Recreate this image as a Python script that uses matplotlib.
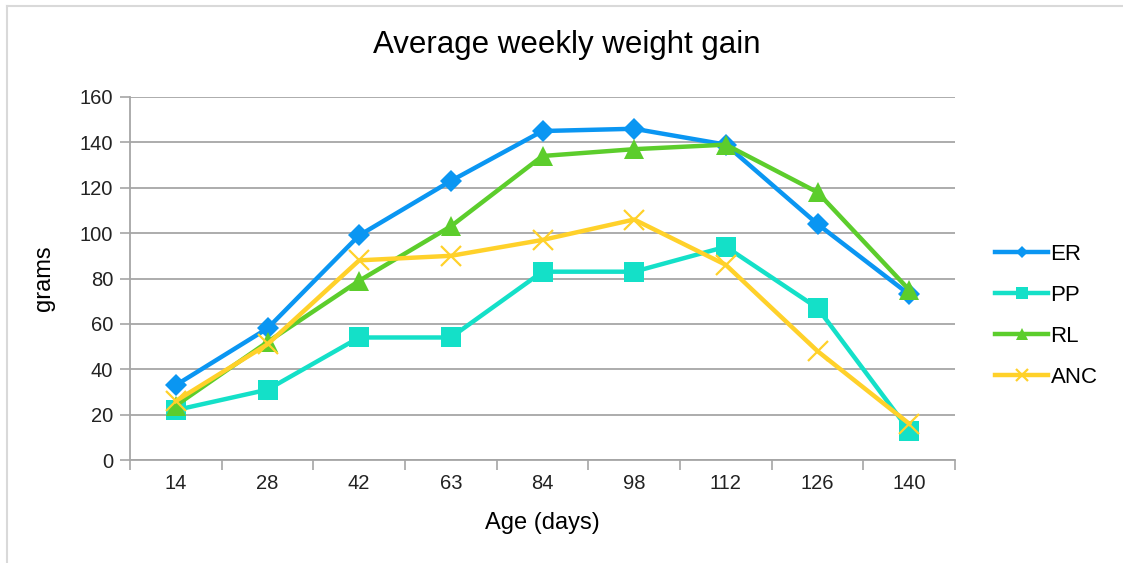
import matplotlib
matplotlib.use("Agg")
import matplotlib.pyplot as plt
import numpy as np
from matplotlib.lines import Line2D

categories = ["14", "28", "42", "63", "84", "98", "112", "126", "140"]
er = [33, 58, 99, 123, 145, 146, 139, 104, 73]
pp = [22, 31, 54, 54, 83, 83, 94, 67, 13]
rl = [24, 52, 79, 103, 134, 137, 139, 118, 75]
anc = [26, 51, 88, 90, 97, 106, 86, 48, 16]
series_names = ["ER", "PP", "RL", "ANC"]
y_ticks = [0, 20, 40, 60, 80, 100, 120, 140, 160]

plt.rcParams['font.family'] = ['Liberation Sans', 'DejaVu Sans']

fig = plt.figure(figsize=(11.23, 5.63), dpi=100)
ax = fig.add_axes([130/1123, 1 - 460/563, (955-130)/1123, (460-97)/563])

x = np.arange(len(categories))
grid_c = '#A6A6A6'
styles = [
    dict(color='#0A96F2', marker='D', markersize=11, markeredgewidth=0),
    dict(color='#14E0C8', marker='s', markersize=15, markeredgewidth=0),
    dict(color='#5CCD2C', marker='^', markersize=15, markeredgewidth=0),
    dict(color='#FFD12A', marker='x', markersize=15, markeredgewidth=1.6),
]
handles = []
for vals, name, st in zip([er, pp, rl, anc], series_names, styles):
    ax.plot(x, vals, lw=3.2, label=name, zorder=3, **st)
    h = Line2D([], [], color=st['color'], lw=3.2, marker=st['marker'],
               markersize=st['markersize'] * 0.6, markeredgewidth=st['markeredgewidth'])
    handles.append(h)

ax.set_xlim(-0.5, len(categories) - 0.5)
ax.set_ylim(0, 160)
ax.set_yticks(y_ticks)
ax.set_xticks(x)
ax.set_xticklabels(categories)
ax.set_xticks(np.arange(-0.5, len(categories)), minor=True)
ax.tick_params(axis='x', which='major', length=0, labelsize=14.5, pad=10, colors='#222222')
ax.tick_params(axis='x', which='minor', length=7, width=1.2, color=grid_c, direction='out')
ax.tick_params(axis='y', length=7, width=1.2, color=grid_c, labelsize=14.5, pad=5, labelcolor='#222222')
ax.yaxis.grid(True, color=grid_c, lw=1.3, zorder=0)
ax.set_axisbelow(True)
for s in ['top', 'right']:
    ax.spines[s].set_visible(False)
for s in ['left', 'bottom']:
    ax.spines[s].set_color(grid_c)
    ax.spines[s].set_linewidth(1.3)

ax.set_xlabel("Age (days)", fontsize=17, labelpad=14)
ax.set_ylabel("grams", fontsize=17, labelpad=18)
fig.text(567/1123, 1 - 45/563, "Average weekly weight gain", fontsize=22.5, ha='center', va='center')

fig.legend(handles, series_names, loc='center left', bbox_to_anchor=(975/1123, 1 - 316/563),
           frameon=False, fontsize=16, handlelength=2.4, labelspacing=0.9, handletextpad=0.1)

# chart border
fig.add_artist(Line2D([7/1123, 7/1123], [0, 1 - 6/563], color='#D9D9D9', lw=1.5, transform=fig.transFigure))
fig.add_artist(Line2D([7/1123, 1], [1 - 6/563, 1 - 6/563], color='#D9D9D9', lw=1.5, transform=fig.transFigure))

fig.savefig("out.png", dpi=100)
